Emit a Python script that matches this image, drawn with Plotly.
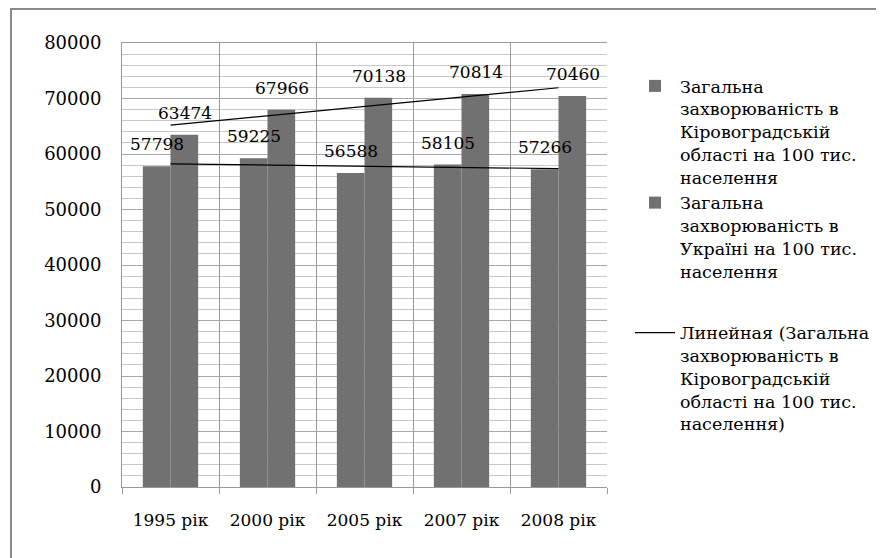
import numpy as np
import plotly.graph_objects as go

categories = ["1995 рік", "2000 рік", "2005 рік", "2007 рік", "2008 рік"]
kirovohrad = [57798, 59225, 56588, 58105, 57266]
ukraine = [63474, 67966, 70138, 70814, 70460]

name_k = "Загальна<br>захворюваність в<br>Кіровоградській<br>області на 100 тис.<br>населення"
name_u = "Загальна<br>захворюваність в<br>Україні на 100 тис.<br>населення"
name_t = "Линейная (Загальна<br>захворюваність в<br>Кіровоградській<br>області на 100 тис.<br>населення)"

FONT = "DejaVu Serif"
BAR = "#717171"

idx = np.arange(1, len(categories) + 1)
ck = np.polyfit(idx, kirovohrad, 1)
cu = np.polyfit(idx, ukraine, 1)
trend_k = np.polyval(ck, idx)
trend_u = np.polyval(cu, idx)

fig = go.Figure()
fig.add_bar(x=categories, y=kirovohrad, name=name_k, marker_color=BAR,
            marker_line_width=0, legendgroup="a")
fig.add_bar(x=categories, y=ukraine, name=name_u, marker_color=BAR,
            marker_line_width=0, legendgroup="a")
fig.add_scatter(x=categories, y=trend_k, mode="lines", name=name_t,
                line=dict(color="black", width=1.2), legendgroup="b")
fig.add_scatter(x=categories, y=trend_u, mode="lines", showlegend=False,
                line=dict(color="black", width=1.2))

ann = []
for c, vk, vu in zip(categories, kirovohrad, ukraine):
    ann.append(dict(x=c, y=vk, text=str(vk), showarrow=False, xshift=-14, yshift=22,
                    font=dict(family=FONT, size=17, color="black")))
    ann.append(dict(x=c, y=vu, text=str(vu), showarrow=False, xshift=14, yshift=22,
                    font=dict(family=FONT, size=17, color="black")))

L, T, W, H = 114, 35, 485, 444
fig.update_layout(
    width=884, height=558,
    margin=dict(l=L, r=884 - L - W, t=T, b=558 - T - H),
    paper_bgcolor="white", plot_bgcolor="white",
    barmode="group", bargap=0.43, bargroupgap=0,
    font=dict(family=FONT, size=16, color="black"),
    annotations=ann,
    legend=dict(x=(622 - L) / W, y=1 - (68 - 8 - T) / H, xanchor="left", yanchor="top",
                font=dict(family=FONT, size=17.5, color="black"),
                tracegroupgap=36, traceorder="grouped", itemwidth=40, valign="top",
                bgcolor="rgba(0,0,0,0)"),
    shapes=[dict(type="rect", xref="paper", yref="paper",
                 x0=(3 - L) / W, x1=(900 - L) / W,
                 y0=-(600 - T - H) / H, y1=1 + (T - 1) / H,
                 line=dict(color="#8a8a8a", width=2), layer="below")],
)
fig.update_xaxes(tickson="boundaries", showgrid=True, gridcolor="#9a9a9a", gridwidth=1,
                 ticks="outside", ticklen=6, tickcolor="#9a9a9a",
                 showline=True, linecolor="#9a9a9a", mirror=True,
                 ticklabelstandoff=18, tickfont=dict(family=FONT, size=17))
fig.update_yaxes(range=[0, 80000], dtick=10000, tickformat="d", showgrid=True, gridcolor="#a8a8a8",
                 minor=dict(dtick=2000, showgrid=True, gridcolor="#c8c8c8"),
                 showline=True, linecolor="#9a9a9a", ticks="", zeroline=False,
                 ticklabelstandoff=16, tickfont=dict(family=FONT, size=18))

fig.write_html("out.html")
